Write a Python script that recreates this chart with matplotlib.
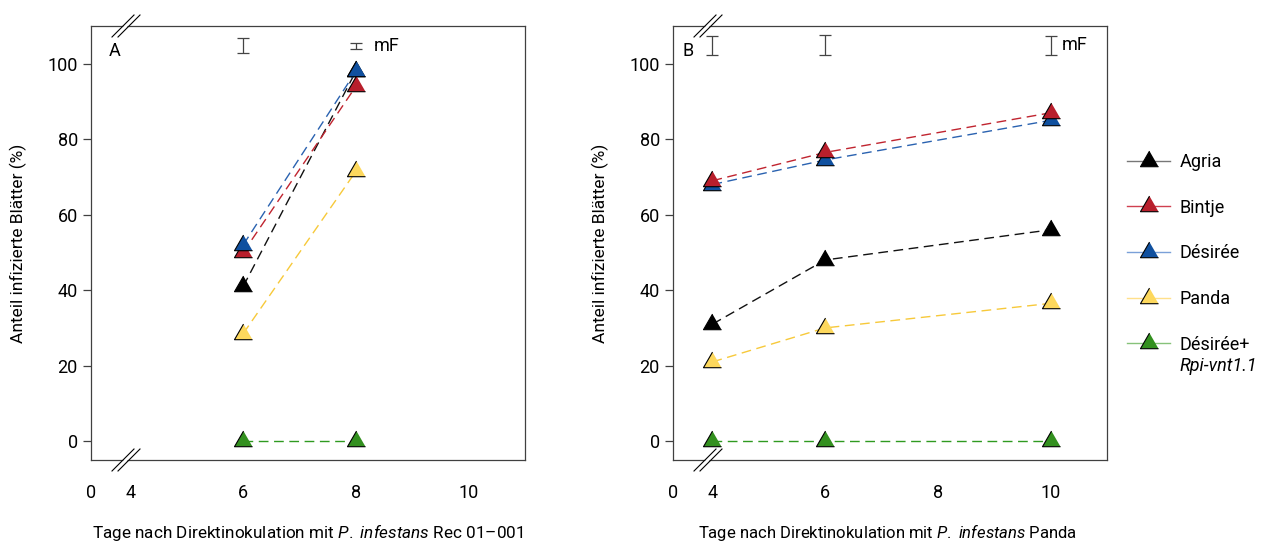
import matplotlib
matplotlib.use('Agg')
import matplotlib.pyplot as plt
from matplotlib.lines import Line2D

plt.rcParams['font.family'] = ['Roboto', 'DejaVu Sans']
plt.rcParams['font.size'] = 13
plt.rcParams['mathtext.fontset'] = 'custom'
plt.rcParams['mathtext.rm'] = 'Roboto'
plt.rcParams['mathtext.it'] = 'Roboto:italic'

# Panel A: Rec 01-001
days_a = [6, 8]
agria_a = [41, 98]
bintje_a = [50, 94]
desiree_a = [52, 98]
panda_a = [28.5, 71.5]
rpi_a = [0, 0]
mf_x_a = [6, 8]
mf_y_a = [104.8, 104.8]
mf_err_a = [1.9, 0.8]

# Panel B: Panda
days_b = [4, 6, 10]
agria_b = [31, 48, 56]
bintje_b = [69, 76.5, 87]
desiree_b = [68, 74.5, 85]
panda_b = [21, 30, 36.5]
rpi_b = [0, 0, 0]
mf_x_b = [4, 6, 10]
mf_y_b = [104.9, 104.9, 104.9]
mf_err_b = [2.5, 2.7, 2.5]

sorten = ['Agria', 'Bintje', 'Désirée', 'Panda', 'Désirée+']
fills = ['#000000', '#b81f2c', '#10509f', '#fdd85d', '#33901f']
linecols = ['#111111', '#c0242f', '#2a62b0', '#f7c93a', '#2f9a20']
legcols = ['#777777', '#d04050', '#7aa0d8', '#ffe08a', '#86c27a']

tri = [(0, 1), (-0.866, -0.5), (0.866, -0.5)]
xticks = [3.3, 4, 6, 8, 10]
xticklabels = ['0', '4', '6', '8', '10']
spine_col = '#404040'

fig = plt.figure(figsize=(12.63, 5.47), dpi=100)
ax_a = fig.add_axes([91 / 1263, 1 - 460 / 547, 434 / 1263, 434 / 547])
ax_b = fig.add_axes([673 / 1263, 1 - 460 / 547, 434 / 1263, 434 / 547])


def panel(ax, days, series, zorders, mf_x, mf_y, mf_err, mf_pos, letter):
    for vals, fc, lc, z in zip(series, fills, linecols, zorders):
        ax.plot(days, vals, ls=(0, (7, 4)), lw=1.0, color=lc, zorder=z)
        ax.plot(days, vals, ls='none', marker=tri, ms=15, mfc=fc, mec='black',
                mew=0.8, zorder=z + 0.5)
    ax.errorbar(mf_x, mf_y, yerr=mf_err, fmt='none', ecolor='#444444',
                elinewidth=0.9, capsize=4, capthick=0.9)
    ax.text(mf_pos, mf_y[-1], 'mF', va='center', ha='left', fontsize=13)
    ax.text(0.041 if letter == 'A' else 0.023, 0.942, letter,
            transform=ax.transAxes, va='center', ha='left', fontsize=13)

    ax.set_xlim(3.3, 11)
    ax.set_ylim(-5, 110)
    ax.set_xticks(xticks)
    ax.set_xticklabels(xticklabels)
    ax.tick_params(axis='x', length=0, pad=17, labelsize=13)
    ax.set_yticks([0, 20, 40, 60, 80, 100])
    ax.tick_params(axis='y', length=6, width=0.9, color=spine_col, labelsize=13)
    for s in ax.spines.values():
        s.set_color(spine_col)
        s.set_linewidth(0.9)
    ax.set_ylabel('Anteil infizierte Blätter (%)', fontsize=12.5)
    ax.yaxis.set_label_coords(-0.168, 0.5)
    ax.yaxis.label.set_va('center')

    # axis break marks
    for yb in (0, 1):
        for off in (0, 6):
            ax.plot([(21 + off) / 434, (43 + off) / 434],
                    [yb - 11 / 434, yb + 11 / 434], color='black', lw=0.8,
                    transform=ax.transAxes, clip_on=False, zorder=10)
        ax.fill([23 / 434, 45 / 434, 47 / 434, 25 / 434],
                [yb - 9 / 434, yb + 9 / 434, yb + 9 / 434, yb - 9 / 434],
                color='white', transform=ax.transAxes, clip_on=False, zorder=9)


panel(ax_a, days_a, [agria_a, bintje_a, desiree_a, panda_a, rpi_a],
      [2, 3, 4, 5, 6], mf_x_a, mf_y_a, mf_err_a, 8.32, 'A')
panel(ax_b, days_b, [agria_b, bintje_b, desiree_b, panda_b, rpi_b],
      [2, 4, 3, 5, 6], mf_x_b, mf_y_b, mf_err_b, 10.2, 'B')

# short outward x ticks where visible
ax_a.set_xticks([3.3, 10], minor=True)
ax_b.set_xticks([3.3, 8], minor=True)
for ax in (ax_a, ax_b):
    ax.tick_params(axis='x', which='minor', length=6, width=0.9, color=spine_col)

ax_a.set_xlabel('Tage nach Direktinokulation mit $\\it{P.}$ $\\it{infestans}$ Rec 01–001',
                fontsize=12.3)
ax_b.set_xlabel('Tage nach Direktinokulation mit $\\it{P.}$ $\\it{infestans}$ Panda',
                fontsize=12)
for ax in (ax_a, ax_b):
    ax.xaxis.set_label_coords(0.5, -0.166)
    ax.xaxis.label.set_va('center')
ax_b.xaxis.set_label_coords(0.494, -0.166)

handles = [Line2D([], [], color=lc, lw=1, marker=tri, ms=15, mfc=fc, mec='black',
                  mew=0.8) for fc, lc in zip(fills, legcols)]
leg = fig.legend(handles, sorten, loc='upper left',
                 bbox_to_anchor=(1118 / 1263, 1 - 144 / 547), frameon=False,
                 handlelength=2.4, handletextpad=0.5, labelspacing=1.53,
                 borderpad=0, fontsize=13)
fig.canvas.draw()
bb = leg.get_texts()[-1].get_window_extent()
x0, y0 = fig.transFigure.inverted().transform((bb.x0, bb.y0 - 12))
fig.text(x0, y0, 'Rpi-vnt1.1', style='italic', fontsize=13, va='center', ha='left')

fig.savefig('out.png', dpi=100)
